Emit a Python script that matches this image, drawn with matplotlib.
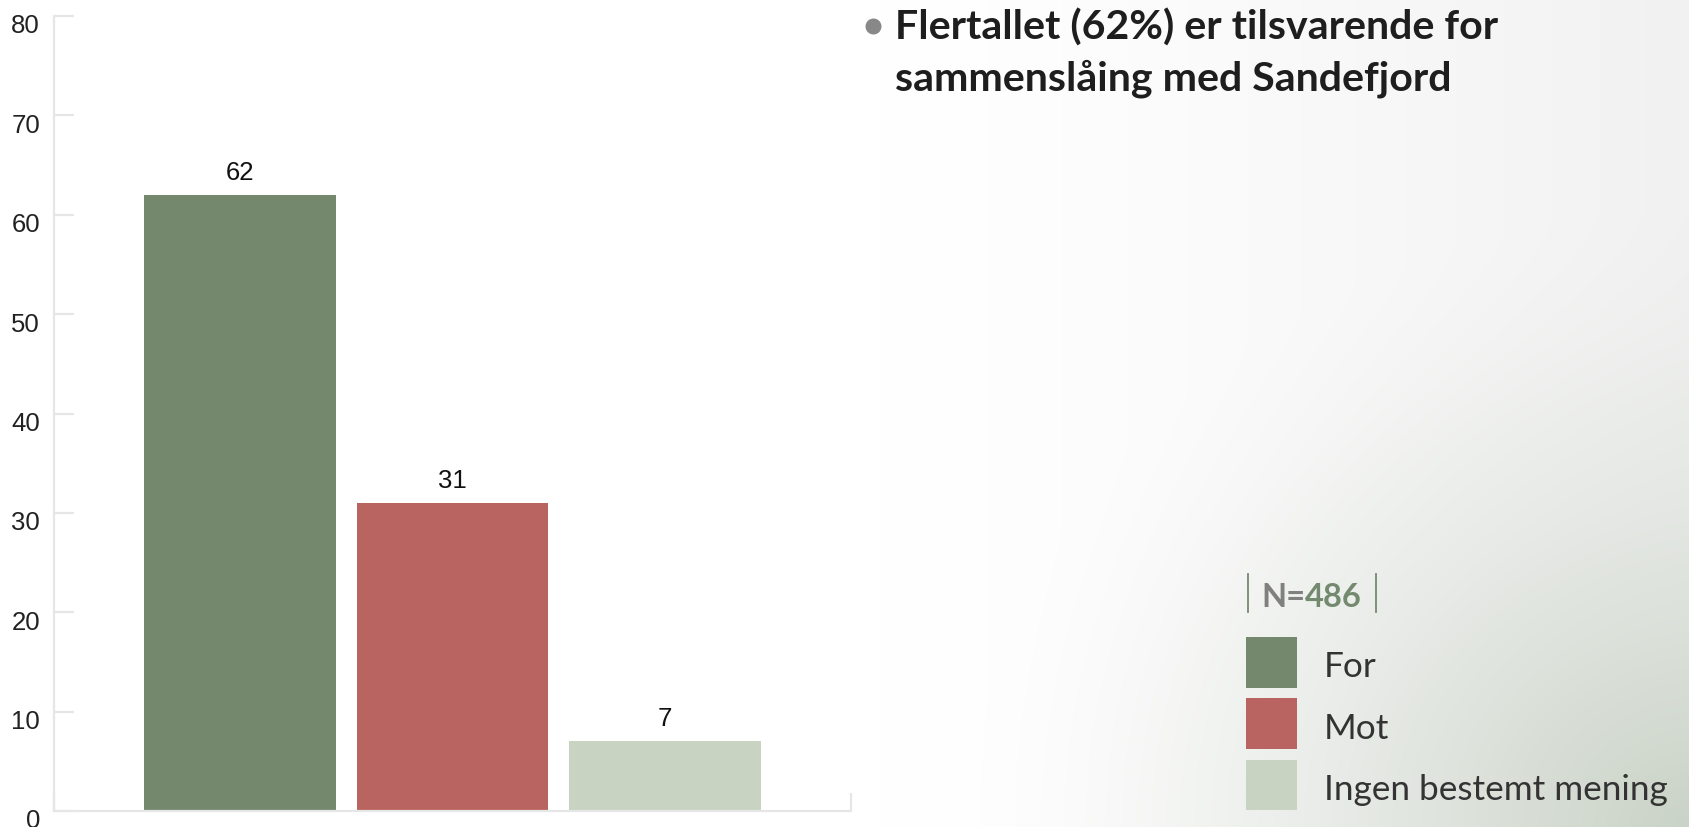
import numpy as np
import matplotlib
matplotlib.use("Agg")
import matplotlib.pyplot as plt
from matplotlib.patches import Rectangle
from matplotlib.lines import Line2D
import matplotlib.transforms as mtransforms

# ---------------- data ----------------
categories = ["For", "Mot", "Ingen bestemt mening"]
values = [62, 31, 7]
bar_colors = ["#74886e", "#b96460", "#c8d3c2"]
yticks = [0, 10, 20, 30, 40, 50, 60, 70, 80]
title_lines = ["Flertallet (62%) er tilsvarende for", "sammenslåing med Sandefjord"]
n_prefix = "N="
n_value = "486"

# ---------------- figure ----------------
W, H = 1690, 828
DPI = 100
fig = plt.figure(figsize=(W / DPI, H / DPI), dpi=DPI)

def fx(x):
    return x / W

def fy(y):
    return 1 - y / H

# background: light horizontal grey fade + greenish radial glow at bottom-right
bg = fig.add_axes([0, 0, 1, 1], zorder=0)
yy, xx = np.mgrid[0:H, 0:W].astype(float)
s = np.clip((xx - 880) / (W - 880), 0, 1)
base = 1 - 0.055 * s ** 1.3
base_img = np.repeat(base[..., None], 3, axis=2)
r = np.sqrt(((W - xx) / 720.0) ** 2 + ((H - yy) / 620.0) ** 2)
t = np.clip(1 - r, 0, 1) ** 1.5
corner = np.array([202, 211, 199]) / 255.0
img = base_img * (1 - t[..., None]) + corner * t[..., None]
bg.imshow(img, origin="upper", aspect="auto", extent=[0, W, H, 0], interpolation="bilinear")
bg.set_xlim(0, W)
bg.set_ylim(H, 0)
bg.axis("off")

# main axes
ax = fig.add_axes([fx(54), 16 / H, 797 / W, 795 / H], zorder=1)
ax.patch.set_alpha(0)
x = np.arange(len(values))
ax.bar(x, values, width=0.9, color=bar_colors, zorder=2)
ax.set_xlim(-0.875, len(values) - 1 + 0.875)
ax.set_ylim(0, 80)

axis_col = "#e6e6e6"
for sp in ["top", "right"]:
    ax.spines[sp].set_visible(False)
for sp in ["left", "bottom"]:
    ax.spines[sp].set_color(axis_col)
    ax.spines[sp].set_linewidth(1.6)

ax.set_yticks(yticks)
ax.set_yticklabels([str(v) for v in yticks])
ax.tick_params(axis="y", direction="in", length=14.4, width=1.6, color=axis_col,
               pad=10, labelsize=18.5, labelcolor="#222222")
for lab in ax.get_yticklabels():
    lab.set_fontfamily("Liberation Sans")
    lab.set_transform(lab.get_transform() +
                      mtransforms.ScaledTranslation(0, -7 / DPI, fig.dpi_scale_trans))

xl = ax.get_xlim()
ax.set_xticks([xl[0], xl[1]])
ax.set_xticklabels(["", ""])
ax.tick_params(axis="x", direction="in", length=13, width=1.6, color=axis_col)

for xi, v in zip(x, values):
    ax.annotate(str(v), xy=(xi, v), xytext=(0, 16), textcoords="offset pixels",
                ha="center", va="baseline", fontsize=18.5, color="#111111",
                family="Liberation Sans", zorder=3)

# ---------------- title ----------------
fig.add_artist(Line2D([fx(873)], [fy(27)], marker="o", markersize=10.5,
                      color="#888888", transform=fig.transFigure, linestyle="none"))
for line, base_y in zip(title_lines, [40, 90.5]):
    fig.text(fx(895), fy(base_y), line, fontsize=29.6, fontweight="bold",
             family="Lato", color="#1e1e1e", ha="left", va="baseline")

# ---------------- legend ----------------
green = "#738a6e"
for xb in [1247.5, 1376.5]:
    fig.add_artist(Line2D([fx(xb), fx(xb)], [fy(575), fy(613)], color=green,
                          linewidth=1.3, transform=fig.transFigure))
t1 = fig.text(fx(1261), fy(607), n_prefix, fontsize=23.5, fontweight="bold",
              family="Lato", color="#808080", ha="left", va="baseline")
ax.annotate(n_value, xy=(1, 0), xycoords=t1, ha="left", va="bottom",
            fontsize=23.5, fontweight="bold", family="Lato", color=green,
            annotation_clip=False)

for i, (cat, col) in enumerate(zip(categories, bar_colors)):
    y0 = 638 + 61.3 * i
    fig.add_artist(Rectangle((fx(1246), fy(y0 + 50.5)), 51 / W, 50.5 / H,
                             facecolor=col, edgecolor="none", transform=fig.transFigure))
    fig.text(fx(1324), fy(y0 + 25 + 14.5), cat, fontsize=25.3, family="Lato",
             color="#333333", ha="left", va="baseline")

fig.savefig("out.png", dpi=DPI)
